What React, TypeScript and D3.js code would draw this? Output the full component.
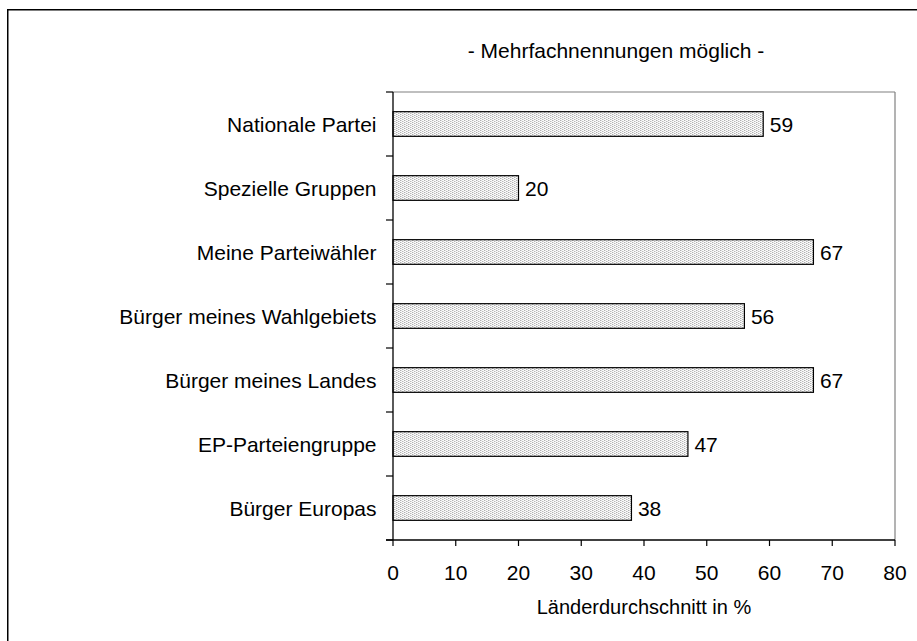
import React from "react";
import * as d3 from "d3";

const categories = [
  "Nationale Partei",
  "Spezielle Gruppen",
  "Meine Parteiwähler",
  "Bürger meines Wahlgebiets",
  "Bürger meines Landes",
  "EP-Parteiengruppe",
  "Bürger Europas",
];
const values = [59, 20, 67, 56, 67, 47, 38];
const xTicks = [0, 10, 20, 30, 40, 50, 60, 70, 80];
const title = "- Mehrfachnennungen möglich -";
const xTitle = "Länderdurchschnitt in %";

export default function App() {
  const W = 917;
  const H = 641;
  const left = 393;
  const right = 895;
  const top = 92;
  const bottom = 540;
  const font = "'Liberation Sans', Arial, sans-serif";
  const fs = 21;

  const x = d3.scaleLinear().domain([0, 80]).range([left, right]);
  const y = d3.scaleBand<string>().domain(categories).range([top, bottom]).padding(0);
  const step = y.step();
  const barH = step * 0.385;
  const boundaries = d3.range(categories.length + 1).map((i) => top + i * step);

  return (
    <svg
      width={W}
      height={H}
      style={{ position: "absolute", left: 0, top: 0, background: "#fff" }}
    >
      <defs>
        <pattern id="dots" width="4" height="2" patternUnits="userSpaceOnUse">
          <rect width="4" height="2" fill="#fbfbfb" />
          <rect x="0" y="0" width="1" height="1" fill="#b0b0b0" />
          <rect x="2" y="1" width="1" height="1" fill="#b8b8b8" />
          <rect x="1" y="0" width="1" height="1" fill="#dcdcdc" />
          <rect x="3" y="1" width="1" height="1" fill="#dcdcdc" />
        </pattern>
      </defs>
      <rect x={0} y={0} width={W} height={H} fill="#fff" />
      {/* outer frame */}
      <rect x={7.75} y={9.75} width={W + 20} height={H + 20} fill="none" stroke="#000" strokeWidth={1.5} />

      {/* plot frame top/right */}
      <line x1={left} x2={right} y1={top} y2={top} stroke="#808080" strokeWidth={1.2} />
      <line x1={right} x2={right} y1={top} y2={bottom} stroke="#808080" strokeWidth={1.2} />

      {/* title */}
      <text x={616} y={57.5} textAnchor="middle" fontFamily={font} fontSize={fs} fill="#000">
        {title}
      </text>

      {/* bars */}
      {categories.map((c, i) => {
        const cy = (y(c) as number) + step / 2;
        return (
          <g key={c}>
            <rect
              x={x(0)}
              y={cy - barH / 2}
              width={x(values[i]) - x(0)}
              height={barH}
              fill="url(#dots)"
              stroke="#000"
              strokeWidth={1.2}
            />
            <text x={x(values[i]) + 6.5} y={cy + 8} fontFamily={font} fontSize={fs} fill="#000">
              {values[i]}
            </text>
            <text x={376.5} y={cy + 7.7} textAnchor="end" fontFamily={font} fontSize={fs} fill="#000">
              {c}
            </text>
          </g>
        );
      })}

      {/* y axis */}
      <line x1={left} x2={left} y1={top} y2={bottom} stroke="#000" strokeWidth={1.3} />
      {boundaries.map((b, i) => (
        <line key={i} x1={left - 7} x2={left} y1={b} y2={b} stroke="#000" strokeWidth={1.2} />
      ))}

      {/* x axis */}
      <line x1={left - 7} x2={right} y1={bottom} y2={bottom} stroke="#000" strokeWidth={1.3} />
      {xTicks.map((t) => (
        <g key={t}>
          <line x1={x(t)} x2={x(t)} y1={bottom} y2={bottom + 6} stroke="#000" strokeWidth={1.2} />
          <text x={x(t)} y={580} textAnchor="middle" fontFamily={font} fontSize={fs} fill="#000">
            {t}
          </text>
        </g>
      ))}
      <text x={(left + right) / 2} y={614.3} textAnchor="middle" fontFamily={font} fontSize={20} fill="#000">
        {xTitle}
      </text>
    </svg>
  );
}
